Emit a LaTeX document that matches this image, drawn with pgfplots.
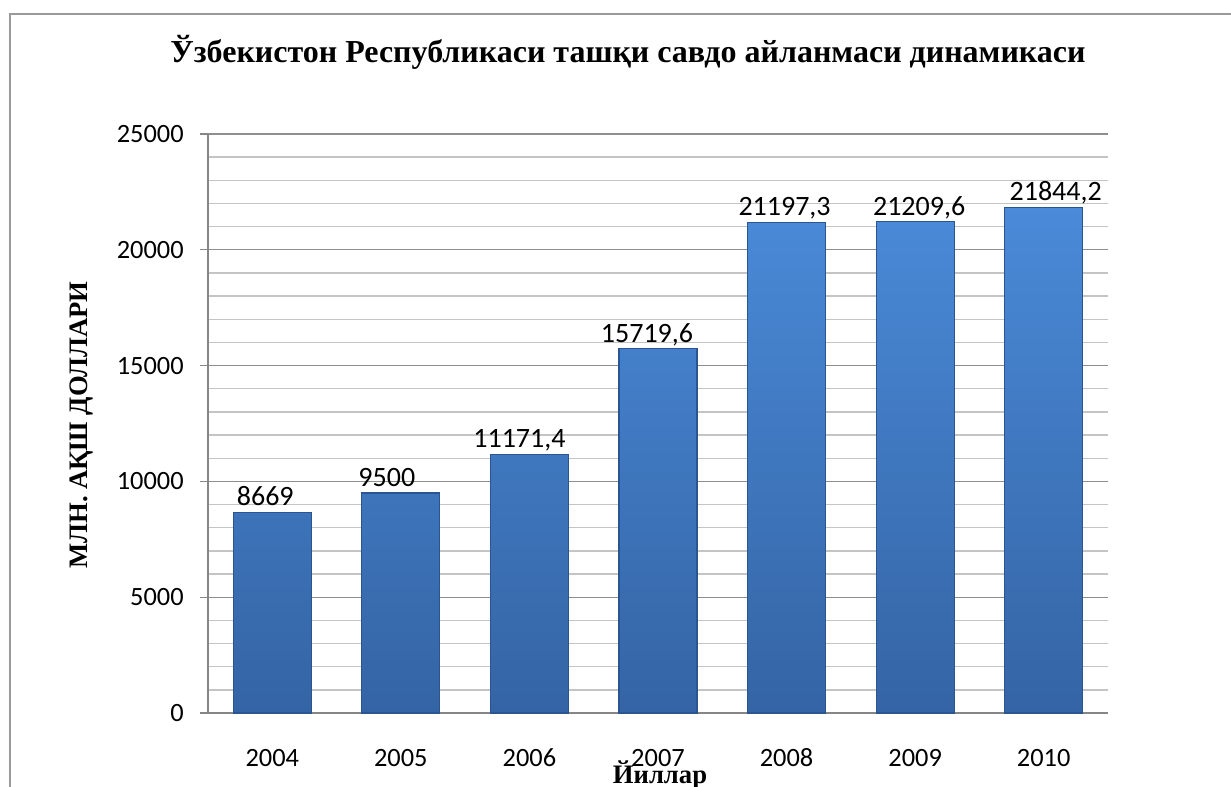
\documentclass[border=0pt]{standalone}
\usepackage{fontspec}
\setmainfont{Liberation Serif}
\newfontfamily\calibri{Carlito}
\usepackage{pgfplots}
\pgfplotsset{compat=1.18}
\usepackage{pgfplotstable}
\definecolor{barTop}{HTML}{4A8AD8}
\definecolor{barBot}{HTML}{3464A4}
\definecolor{barEdge}{HTML}{2A5590}
\definecolor{gridMajor}{HTML}{8E8E8E}
\definecolor{gridMinor}{HTML}{C4C4C4}
\definecolor{axisGray}{HTML}{868686}
\definecolor{frameGray}{HTML}{9A9A9A}
\pgfplotstableread{
x y lab dx
0 8669 8669 -5.25
1 9500 9500 -10.5
2 11171.4 11171,4 -7.5
3 15719.6 15719,6 -8.25
4 21197.3 21197,3 -1.5
5 21209.6 21209,6 3
6 21844.2 21844,2 9
}\datatable
\begin{document}
\begin{tikzpicture}
\useasboundingbox (-156pt,-54.75pt) rectangle (767.25pt,534.75pt);
\begin{axis}[
  at={(0pt,0pt)}, anchor=south west,
  scale only axis, width=675pt, height=434.25pt,
  xmin=-0.5, xmax=6.5, ymin=0, ymax=25000,
  axis x line*=bottom, axis y line*=left,
  axis line style={-, draw=axisGray, line width=1.5pt},
  xtick={0,1,2,3,4,5,6},
  xticklabels={2004,2005,2006,2007,2008,2009,2010},
  major x tick style={draw=none},
  ytick={0,5000,10000,15000,20000,25000},
  scaled y ticks=false,
  minor y tick num=4,
  minor y tick style={draw=none},
  ymajorgrids, yminorgrids,
  major grid style={draw=gridMajor, line width=0.9pt},
  minor grid style={draw=gridMinor, line width=1.1pt},
  tick align=outside, major tick length=6pt,
  major y tick style={draw=axisGray, line width=1pt},
  /pgf/number format/1000 sep={},
  /pgf/number format/assume math mode=true,
  tick label style={font=\calibri\fontsize{19.8}{23}\selectfont, text=black, inner sep=0pt},
  yticklabel style={xshift=-12pt},
  xticklabel style={anchor=base, yshift=-34pt},
  clip=false,
]
\addplot[ybar, bar width=58.5pt, top color=barTop, bottom color=barBot, draw=barEdge, line width=0.8pt,
  point meta=explicit symbolic,
  visualization depends on={\thisrow{dx} \as \dx},
  nodes near coords,
  every node near coord/.append style={font=\calibri\fontsize{21}{25}\selectfont, text=black, anchor=base, inner sep=0pt, yshift=5pt, xshift=\dx},
] table[x=x, y=y, meta=lab] {\datatable};
\end{axis}
\draw[frameGray, line width=1.5pt] (-148.5pt,-60pt) -- (-148.5pt,524.25pt) -- (770pt,524.25pt);
\node[anchor=base, font=\bfseries\fontsize{24}{28}\selectfont] at (315pt,487.5pt) {Ўзбекистон Республикаси ташқи савдо айланмаси динамикаси};
\node[rotate=90, font=\bfseries\fontsize{20}{24}\selectfont] at (-94.5pt,216pt) {МЛН. АҚШ ДОЛЛАРИ};
\node[anchor=base, font=\bfseries\fontsize{20}{24}\selectfont] at (339pt,-52.5pt) {Йиллар};
\end{tikzpicture}
\end{document}
